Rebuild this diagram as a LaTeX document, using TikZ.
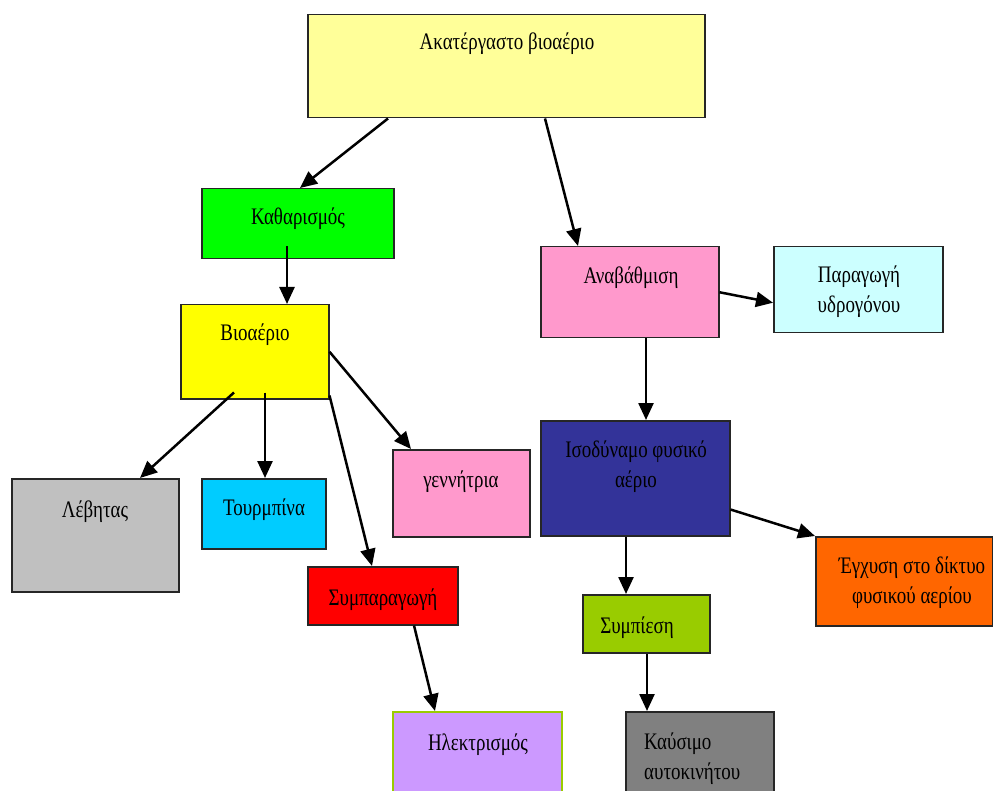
\documentclass[tikz,border=0pt]{standalone}
\usepackage{fontspec}
\setmainfont[FakeStretch=0.8]{Liberation Serif}
\usetikzlibrary{arrows.meta}
\definecolor{cTop}{HTML}{FFFF99}
\definecolor{cKath}{HTML}{00FF00}
\definecolor{cBio}{HTML}{FFFF00}
\definecolor{cLev}{HTML}{C0C0C0}
\definecolor{cTour}{HTML}{00CCFF}
\definecolor{cPink}{HTML}{FF99CC}
\definecolor{cRed}{HTML}{FF0000}
\definecolor{cLil}{HTML}{CC99FF}
\definecolor{cLime}{HTML}{99CC00}
\definecolor{cHyd}{HTML}{CCFFFF}
\definecolor{cNavy}{HTML}{333399}
\definecolor{cOra}{HTML}{FF6600}
\definecolor{cGray}{HTML}{808080}
\tikzset{
  box/.style={draw=black!85, line width=1.5pt, rectangle, inner sep=0pt, anchor=north west},
  txt/.style={font=\fontsize{23.7}{30}\selectfont, inner sep=0pt, align=center, text=black},
  arr/.style={line width=2.5pt, -{Triangle[length=17pt,width=15pt]}}
}
\begin{document}
\begin{tikzpicture}[x=1pt,y=-1pt]
\useasboundingbox (0,0) rectangle (993,791);
\clip (0,0) rectangle (993,791);
% boxes
\node[box, fill=cTop, minimum width=397pt, minimum height=103pt] (top) at (307,14) {};
\node[box, fill=cKath, minimum width=192pt, minimum height=70pt] (kath) at (201,188) {};
\node[box, fill=cBio, minimum width=148pt, minimum height=94pt] (bio) at (180,304) {};
\node[box, fill=cLev, minimum width=167pt, minimum height=113pt] (lev) at (11,478) {};
\node[box, fill=cTour, minimum width=124pt, minimum height=70pt] (tour) at (201,478) {};
\node[box, fill=cPink, minimum width=137pt, minimum height=87pt] (gen) at (392,449) {};
\node[box, fill=cRed, minimum width=150pt, minimum height=58pt] (sympar) at (307,566) {};
\node[box, draw=cLime, fill=cLil, minimum width=169pt, minimum height=100pt] (ilek) at (392,711) {};
\node[box, fill=cPink, minimum width=178pt, minimum height=91pt] (anab) at (540,246) {};
\node[box, fill=cHyd, minimum width=169pt, minimum height=86pt] (parag) at (773,246) {};
\node[box, fill=cNavy, minimum width=189pt, minimum height=115pt] (iso) at (540,420) {};
\node[box, fill=cOra, minimum width=177pt, minimum height=89pt] (egx) at (815,536) {};
\node[box, fill=cLime, minimum width=127pt, minimum height=58pt] (sympie) at (582,594) {};
\node[box, fill=cGray, minimum width=148pt, minimum height=100pt] (kaus) at (625,711) {};
% texts
\node[txt] (tTop) at (507,44) {Ακατέργαστο βιοαέριο};
\node[txt] (tKath) at (298,219) {Καθαρισμός};
\node[txt] (tBio) at (255,335) {Βιοαέριο};
\node[txt] (tLev) at (95,512) {Λέβητας};
\node[txt] (tTour) at (264,510) {Τουρμπίνα};
\node[txt] (tGen) at (461,482) {γεννήτρια};
\node[txt] (tSympar) at (383,600) {Συμπαραγωγή};
\node[txt] (tIlek) at (478,745) {Ηλεκτρισμός};
\node[txt] (tAnab) at (631,278) {Αναβάθμιση};
\node[txt] (tParag) at (859,292) {Παραγωγή\\υδρογόνου};
\node[txt] (tIso) at (636,467) {Ισοδύναμο φυσικό\\αέριο};
\node[txt] (tEgx) at (912,583) {Έγχυση στο δίκτυο\\φυσικού αερίου};
\node[txt] (tSympie) at (637,628) {Συμπίεση};
\node[txt, align=left, anchor=west] (tKaus) at (644,759) {Καύσιμο\\αυτοκινήτου};
% arrows
\draw[arr] ([xshift=81pt]top.south west) -- ([xshift=99pt]kath.north west);
\draw[arr] ([xshift=238pt]top.south west) -- ([xshift=38pt]anab.north west);
\draw[arr] ([xshift=86pt,yshift=13pt]kath.south west) -- ([xshift=107pt]bio.north west);
\draw[arr] ([xshift=54pt,yshift=7pt]bio.south west) -- ([xshift=129pt]lev.north west);
\draw[arr] ([xshift=85pt,yshift=7pt]bio.south west) -- ([xshift=64pt]tour.north west);
\draw[arr] ([yshift=4pt]bio.south east) -- ([xshift=65pt]sympar.north west);
\draw[arr] (bio.east) -- ([xshift=19pt]gen.north west);
\draw[arr] ([xshift=107pt]sympar.south west) -- ([xshift=43pt]ilek.north west);
\draw[arr] (anab.east) -- ([yshift=-13pt]parag.west);
\draw[arr] ([xshift=106pt]anab.south west) -- ([xshift=106pt]iso.north west);
\draw[arr] ([yshift=27pt]iso.south east) -- (egx.north west);
\draw[arr] ([xshift=86pt]iso.south west) -- ([xshift=44pt]sympie.north west);
\draw[arr] ([xshift=65pt]sympie.south west) -- ([xshift=22pt]kaus.north west);
\end{tikzpicture}
\end{document}
